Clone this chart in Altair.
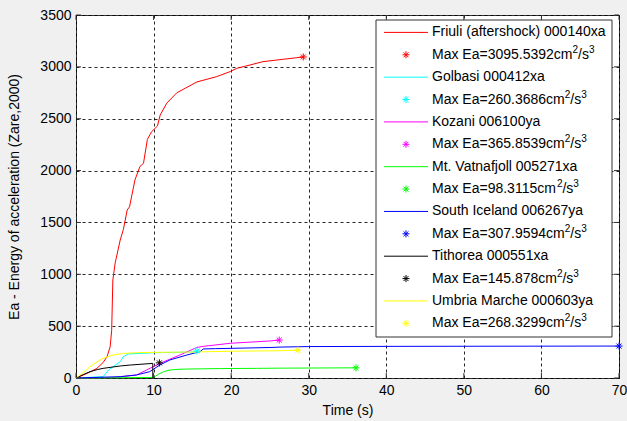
import altair as alt
import pandas as pd

# Stations, line colours and peak energy values
stations = [
    "Friuli (aftershock) 000140xa",
    "Golbasi 000412xa",
    "Kozani 006100ya",
    "Mt. Vatnafjoll 005271xa",
    "South Iceland 006267ya",
    "Tithorea 000551xa",
    "Umbria Marche 000603ya",
]
colors = ["#ff0000", "#00ffff", "#ff00ff", "#00ff00", "#0000ff", "#000000", "#ffff00"]

peak_time = [29.3, 15.6, 26.2, 36.1, 70.0, 10.75, 28.6]
peak_ea = [3095.5392, 260.3686, 365.8539, 98.3115, 307.9594, 145.878, 268.3299]

# Cumulative energy of acceleration curves (time in s, Ea in cm^2/s^3)
friuli_t = [0, 1.0, 2.0, 2.7, 3.5, 4.0, 4.4, 4.6, 4.75, 5.05, 5.7, 6.1, 6.6, 6.9, 7.6,
            8.25, 8.7, 9.2, 9.75, 10.5, 10.85, 11.7, 13.0, 15.6, 18.1, 19.9, 20.7,
            24.1, 26.7, 29.3]
friuli_ea = [0, 30, 65, 93, 150, 205, 300, 460, 945, 1110, 1330, 1430, 1620, 1650, 1910,
             2040, 2070, 2300, 2375, 2430, 2535, 2650, 2750, 2855, 2905, 2955, 2985,
             3050, 3073, 3095.5392]

golbasi_t = [0, 3.5, 4.2, 4.8, 5.7, 6.1, 6.7, 10.0, 13.4, 15.0, 15.6]
golbasi_ea = [0, 13, 77, 110, 157, 205, 231, 244, 248, 252, 260.3686]

kozani_t = [0, 5.0, 7.8, 9.1, 10.8, 13.4, 15.6, 16.4, 19.9, 25.0, 26.2]
kozani_ea = [0, 5, 29, 77, 141, 222, 295, 305, 335, 357, 365.8539]

vatnafjoll_t = [0, 10.0, 10.6, 11.3, 12.1, 13.4, 16.0, 18.6, 23.3, 26.3, 30.0, 36.1]
vatnafjoll_ea = [0, 5, 35, 61, 77, 85, 88, 91, 93, 95, 96, 98.3115]

iceland_t = [0, 5.7, 7.8, 9.5, 10.8, 12.1, 14.3, 16.0, 16.4, 18.0, 20.0, 25.0, 26.3,
             30.0, 40.0, 50.0, 60.0, 70.0]
iceland_ea = [0, 13, 29, 61, 125, 174, 222, 254, 280, 283, 286, 294, 298,
              303, 305, 306, 307, 307.9594]

tithorea_t = [0, 1.0, 1.8, 2.8, 3.5, 5.7, 7.0, 9.9, 9.9]
tithorea_ea = [0, 35, 61, 82, 93, 116, 125, 141, 0]

umbria_t = [0, 1.0, 1.8, 2.7, 3.5, 4.8, 6.0, 7.8, 10.0, 14.3, 16.0, 20.0, 26.3, 28.6]
umbria_ea = [0, 55, 109, 155, 190, 222, 236, 244, 247, 250, 252, 258, 263, 268.3299]

series_t = [friuli_t, golbasi_t, kozani_t, vatnafjoll_t, iceland_t, tithorea_t, umbria_t]
series_ea = [friuli_ea, golbasi_ea, kozani_ea, vatnafjoll_ea, iceland_ea, tithorea_ea, umbria_ea]

x_ticks = list(range(0, 71, 10))
y_ticks = list(range(0, 3501, 500))

# ---- layout (pixels) ----
W, H = 543, 363
PAD_L, PAD_T, PAD_R, PAD_B = 76, 15, 8, 43
FONT = "Liberation Sans"
FS, FS_SUP = 14, 10
TICK = 5
ASTERISK = "M-1,0L1,0M0,-1L0,1M-0.7,-0.7L0.7,0.7M-0.7,0.7L0.7,-0.7"

# Arial / Liberation Sans advance widths (per 1000 em) for placing superscripts
ADV = {"M": 833, "a": 556, "x": 500, " ": 278, "E": 667, "=": 584, ".": 278,
       "c": 500, "m": 833, "/": 278, "s": 500}


def text_width(s, size):
    return sum(ADV.get(ch, 556) for ch in s) * size / 1000.0


rows = []
for k, name in enumerate(stations):
    for i, (t, e) in enumerate(zip(series_t[k], series_ea[k])):
        rows.append({"station": name, "t": t, "ea": e, "i": i})
curves = pd.DataFrame(rows)
peaks = pd.DataFrame({"station": stations, "t": peak_time, "ea": peak_ea})

xs = alt.Scale(domain=[0, 70], nice=False, zero=False)
ys = alt.Scale(domain=[0, 3500], nice=False)
cs = alt.Scale(domain=stations, range=colors)

x_axis = alt.Axis(values=x_ticks, grid=True, gridDash=[3, 3], gridColor="#000000",
                  gridOpacity=0.85, domain=False, ticks=False, labelFlush=False,
                  format="d",
                  labelFont=FONT, labelFontSize=FS, labelColor="#000000", labelPadding=5,
                  title="Time (s)", titleFont=FONT, titleFontSize=FS,
                  titleFontWeight="normal", titleColor="#000000",
                  titleY=32, titleBaseline="middle")
y_axis = alt.Axis(values=y_ticks, grid=True, gridDash=[3, 3], gridColor="#000000",
                  gridOpacity=0.85, domain=False, ticks=False, labelFlush=False,
                  format="d",
                  labelFont=FONT, labelFontSize=FS, labelColor="#000000", labelPadding=5,
                  title="Ea - Energy of acceleration (Zare,2000)", titleFont=FONT,
                  titleFontSize=FS, titleFontWeight="normal", titleColor="#000000",
                  titleX=14 - PAD_L, titleY=H / 2, titleAngle=270,
                  titleBaseline="middle", titleAlign="center")

# inward tick marks on all four sides of the box
xt = alt.Chart(pd.DataFrame({"v": x_ticks}))
yt = alt.Chart(pd.DataFrame({"v": y_ticks}))
tick_style = dict(color="#333333", strokeWidth=1)
ticks_bottom = xt.mark_rule(**tick_style).encode(
    x=alt.X("v:Q", scale=xs), y=alt.value(H), y2=alt.value(H - TICK))
ticks_top = xt.mark_rule(**tick_style).encode(
    x=alt.X("v:Q", scale=xs), y=alt.value(0), y2=alt.value(TICK))
ticks_left = yt.mark_rule(**tick_style).encode(
    y=alt.Y("v:Q", scale=ys), x=alt.value(0), x2=alt.value(TICK))
ticks_right = yt.mark_rule(**tick_style).encode(
    y=alt.Y("v:Q", scale=ys), x=alt.value(W), x2=alt.value(W - TICK))

lines = alt.Chart(curves).mark_line(strokeWidth=1).encode(
    x=alt.X("t:Q", scale=xs, axis=x_axis),
    y=alt.Y("ea:Q", scale=ys, axis=y_axis),
    color=alt.Color("station:N", scale=cs, legend=None),
    detail="station:N",
    order="i:Q",
)
points = alt.Chart(peaks).mark_point(shape=ASTERISK, size=50, filled=False,
                                     strokeWidth=1, opacity=1).encode(
    x=alt.X("t:Q", scale=xs),
    y=alt.Y("ea:Q", scale=ys),
    color=alt.Color("station:N", scale=cs, legend=None),
)
main = alt.layer(lines, ticks_bottom, ticks_top, ticks_left, ticks_right, points)

# ---- legend box drawn inside the axes ----
ROW0, ROW_STEP = 32.4, 22.38
TEXT_X = 432 - PAD_L
leg_rows = []
leg_text_rows = []
for k, name in enumerate(stations):
    y_line = ROW0 - PAD_T + (2 * k) * ROW_STEP
    y_mark = ROW0 - PAD_T + (2 * k + 1) * ROW_STEP
    leg_rows.append({"color": colors[k], "kind": "line", "y": y_line})
    leg_rows.append({"color": colors[k], "kind": "mark", "y": y_mark})
    leg_text_rows.append({"txt": name, "x": TEXT_X, "y": y_line, "size": FS})
    # "Max Ea=...cm" then superscript 2, "/s", superscript 3
    head = f"Max Ea={peak_ea[k]}cm"
    x1 = TEXT_X + text_width(head, FS)
    x2 = x1 + text_width("2", FS_SUP)
    x3 = x2 + text_width("/s", FS)
    leg_text_rows.append({"txt": head, "x": TEXT_X, "y": y_mark, "size": FS})
    leg_text_rows.append({"txt": "2", "x": x1, "y": y_mark - 5, "size": FS_SUP})
    leg_text_rows.append({"txt": "/s", "x": x2, "y": y_mark, "size": FS})
    leg_text_rows.append({"txt": "3", "x": x3, "y": y_mark - 5, "size": FS_SUP})
leg_df = pd.DataFrame(leg_rows)
leg_txt_df = pd.DataFrame(leg_text_rows)

box = alt.Chart(pd.DataFrame({"a": [0]})).mark_rect(
    fill="white", stroke="#333333", strokeWidth=1).encode(
    x=alt.value(376 - PAD_L), x2=alt.value(612 - PAD_L),
    y=alt.value(20 - PAD_T), y2=alt.value(337 - PAD_T),
)
leg_base = alt.Chart(leg_df)
leg_lines = leg_base.transform_filter(alt.datum.kind == "line").mark_rule(strokeWidth=1).encode(
    x=alt.value(384 - PAD_L), x2=alt.value(428 - PAD_L),
    y=alt.Y("y:Q", scale=None, axis=None),
    color=alt.Color("color:N", scale=None),
)
leg_marks = leg_base.transform_filter(alt.datum.kind == "mark").mark_point(
    shape=ASTERISK, size=50, filled=False, strokeWidth=1, opacity=1).encode(
    x=alt.value(406 - PAD_L),
    y=alt.Y("y:Q", scale=None, axis=None),
    color=alt.Color("color:N", scale=None),
)
leg_text = alt.Chart(leg_txt_df).mark_text(align="left", baseline="middle", font=FONT,
                                           color="#000000").encode(
    x=alt.X("x:Q", scale=None, axis=None),
    y=alt.Y("y:Q", scale=None, axis=None),
    size=alt.Size("size:Q", scale=None, legend=None),
    text="txt:N",
)
legend = alt.layer(box, leg_lines, leg_marks, leg_text)

chart = alt.layer(main, legend).resolve_scale(
    x="independent", y="independent", color="independent", size="independent"
).properties(
    width=W, height=H,
    padding={"left": PAD_L, "top": PAD_T, "right": PAD_R, "bottom": PAD_B},
    autosize=alt.AutoSizeParams(type="none"),
    background="#f0f0f0",
).configure_view(
    fill="white", stroke="#333333", strokeWidth=1
)

chart.save("out.html", embed_options={"renderer": "svg", "actions": False})
